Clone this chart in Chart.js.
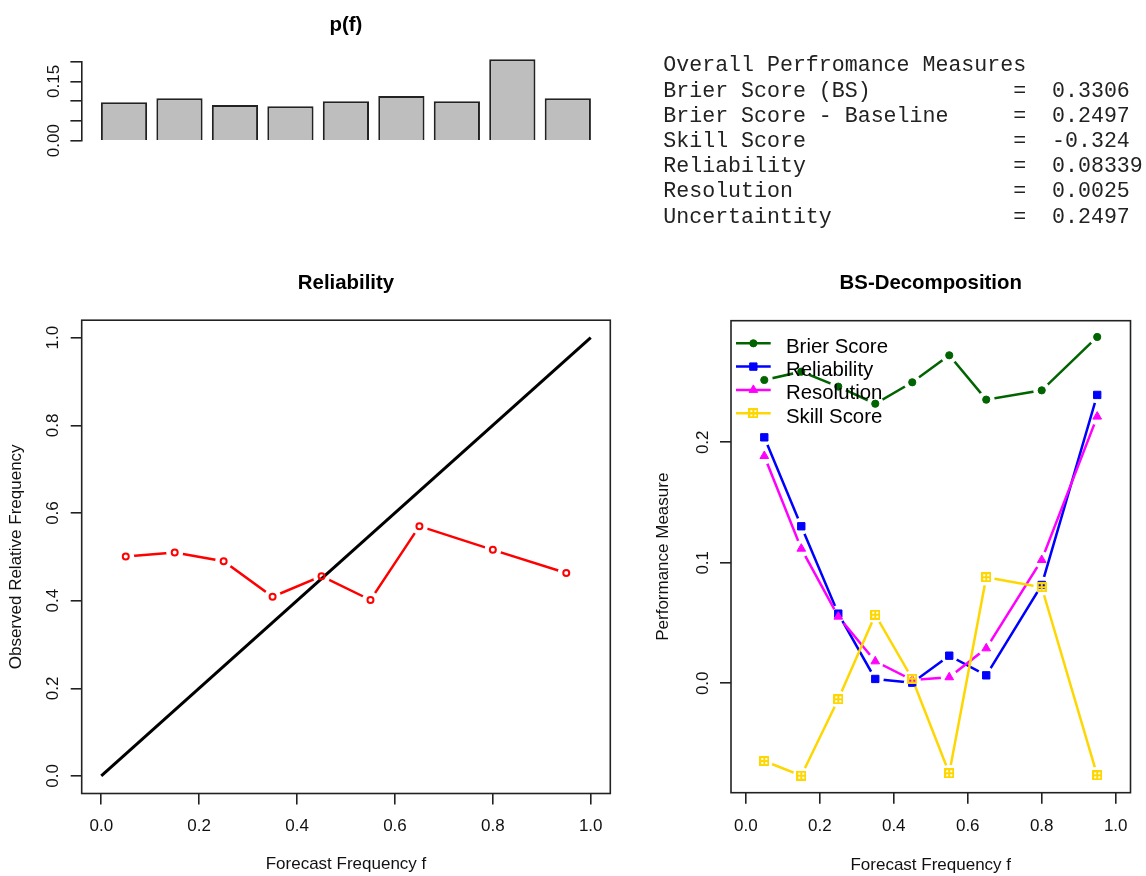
<!DOCTYPE html>
<html>
<head>
<meta charset="utf-8">
<title>Reliability diagnostics</title>
<script src="https://cdn.jsdelivr.net/npm/chart.js"></script>
<style>
  html, body { margin: 0; padding: 0; background: #fff; }
  #page { position: relative; width: 1146px; height: 876px; overflow: hidden; background: #fff; }
  #page canvas { position: absolute; left: 0; top: 0; }
  #measures {
    position: absolute; left: 663.3px; top: 53.4px; margin: 0;
    font-family: "Liberation Mono", "Courier New", monospace;
    font-size: 21.6px; line-height: 25.2px; white-space: pre; color: #222;
  }
</style>
</head>
<body>
<div id="page">
  <canvas id="pfChart" width="1146" height="876"></canvas>
  <canvas id="relChart" width="1146" height="876"></canvas>
  <canvas id="bsChart" width="1146" height="876"></canvas>
  <pre id="measures"></pre>
</div>
<script>
// Forecast probability bins (bin midpoints)
const bins = [0.05, 0.15, 0.25, 0.35, 0.45, 0.55, 0.65, 0.8, 0.95];
// Share of forecasts falling in each bin, p(f)
const binShare = [0.0972, 0.1073, 0.0904, 0.0871, 0.0997, 0.1132, 0.0997, 0.2061, 0.1073];
// Observed relative frequency of the event in each bin
const observedFreq = [0.501, 0.510, 0.490, 0.409, 0.456, 0.4015, 0.570, 0.516, 0.463];
// Per-bin decomposition of the Brier score
const brierScore  = [0.2517, 0.2586, 0.2462, 0.2320, 0.2498, 0.2722, 0.2354, 0.2431, 0.2874];
const reliability = [0.2041, 0.1303, 0.0578, 0.0036, 0.0005, 0.0229, 0.0066, 0.0816, 0.2393];
const resolution  = [0.1886, 0.1117, 0.0553, 0.0182, 0.0027, 0.0050, 0.0290, 0.1023, 0.2213];
const skillScore  = [-0.0645, -0.0767, -0.0133, 0.0569, 0.0038, -0.0747, 0.0880, 0.0797, -0.0764];
// Perfect-reliability diagonal end points
const diagonal = [0, 1];

const seriesNames = ['Brier Score', 'Reliability', 'Resolution', 'Skill Score'];

// Tick values and labels
const shareTicks = [0, 0.05, 0.10, 0.15, 0.20];
const shareTickLabels = ['0.00', '', '', '0.15', ''];
const freqTicks = [0, 0.2, 0.4, 0.6, 0.8, 1.0];
const measureTicks = [0, 0.1, 0.2];

// Summary table
const summaryTitle = 'Overall Perfromance Measures';
const measureNames = ['Brier Score (BS)', 'Brier Score - Baseline', 'Skill Score', 'Reliability', 'Resolution', 'Uncertaintity'];
const measureValues = ['0.3306', '0.2497', '-0.324', '0.08339', '0.0025', '0.2497'];

document.getElementById('measures').textContent =
  [summaryTitle].concat(measureNames.map((n, i) => n.padEnd(27) + '=  ' + measureValues[i])).join('\n');

Chart.defaults.font.family = '"Liberation Sans", Arial, Helvetica, sans-serif';
Chart.defaults.font.size = 17;
Chart.defaults.color = '#111';

const INK = '#222';
const titleFont = { size: 20.4, weight: 'bold' };

// Lines stop short of each marker, as with an R type="b" plot
const pointGaps = {
  id: 'pointGaps',
  beforeDatasetDraw(chart, args) {
    const ds = chart.data.datasets[args.index];
    if (!ds.gap) return;
    const ctx = chart.ctx;
    ctx.save();
    ctx.beginPath();
    ctx.rect(0, 0, chart.width, chart.height);
    args.meta.data.forEach(p => {
      ctx.moveTo(p.x + ds.gap, p.y);
      ctx.arc(p.x, p.y, ds.gap, 0, Math.PI * 2, true);
    });
    ctx.clip('evenodd');
  },
  afterDatasetDraw(chart, args) {
    const ds = chart.data.datasets[args.index];
    if (!ds.gap) return;
    const ctx = chart.ctx;
    ctx.restore();
    args.meta.data.forEach(p => p.draw(ctx, chart.chartArea));
  }
};

// Box around the plotting region
const frame = {
  id: 'frame',
  beforeDatasetsDraw(chart, args, opts) {
    const { left, top, right, bottom } = chart.chartArea;
    const ctx = chart.ctx;
    ctx.save();
    ctx.strokeStyle = opts.color || INK;
    ctx.lineWidth = opts.width || 1.6;
    ctx.strokeRect(left, top, right - left, bottom - top);
    ctx.restore();
  }
};

// Legend drawn inside the plotting region, line + marker + label
const insetLegend = {
  id: 'insetLegend',
  afterDatasetsDraw(chart, args, opts) {
    const ctx = chart.ctx;
    const a = chart.chartArea;
    ctx.save();
    ctx.font = opts.fontSize + 'px ' + Chart.defaults.font.family;
    ctx.textBaseline = 'alphabetic';
    ctx.textAlign = 'left';
    opts.order.forEach((dsIndex, row) => {
      const ds = chart.data.datasets[dsIndex];
      const y = a.top + opts.rowTop + row * opts.rowStep;
      ctx.strokeStyle = ds.borderColor;
      ctx.lineWidth = ds.borderWidth;
      ctx.beginPath();
      ctx.moveTo(a.left + opts.lineStart, y);
      ctx.lineTo(a.left + opts.lineEnd, y);
      ctx.stroke();
      ctx.fillStyle = ds.pointBackgroundColor;
      ctx.strokeStyle = ds.pointBorderColor;
      ctx.lineWidth = ds.pointBorderWidth;
      Chart.helpers.drawPoint(ctx, {
        pointStyle: ds.pointStyle, radius: ds.pointRadius, rotation: 0, borderWidth: ds.pointBorderWidth
      }, a.left + (opts.lineStart + opts.lineEnd) / 2, y);
      ctx.fillStyle = '#000';
      ctx.fillText(ds.label, a.left + opts.textStart, y + opts.baseline);
    });
    ctx.restore();
  }
};

function boxPlusMarker(color) {
  const c = document.createElement('canvas');
  c.width = 10; c.height = 10;
  const g = c.getContext('2d');
  g.strokeStyle = color;
  g.lineWidth = 2;
  g.strokeRect(1, 1, 8, 8);
  g.beginPath();
  g.moveTo(5, 1); g.lineTo(5, 9);
  g.moveTo(1, 5); g.lineTo(9, 5);
  g.stroke();
  return c;
}

function tickAxis(values, extra) {
  return Object.assign({
    type: 'linear',
    afterBuildTicks: s => { s.ticks = values.map(v => ({ value: v })); },
    border: { display: false },
    grid: { drawOnChartArea: false, drawTicks: true, tickLength: 11, color: INK, tickColor: INK, lineWidth: 1.6, tickWidth: 1.6 },
  }, extra);
}

// ---- p(f): share of forecasts per bin ----
new Chart(document.getElementById('pfChart'), {
  type: 'bar',
  data: {
    datasets: [{
      label: 'p(f)',
      data: binShare.map((v, i) => ({ x: i + 1, y: v })),
      backgroundColor: '#bebebe',
      borderColor: INK,
      borderWidth: 2,
      barPercentage: 1 / 1.2,
      categoryPercentage: 1,
      clip: false
    }]
  },
  options: {
    responsive: false, animation: false, events: [], devicePixelRatio: 1,
    layout: { padding: { left: 21.4, right: 535.7, top: 0, bottom: 735.3 } },
    plugins: {
      legend: { display: false }, tooltip: { enabled: false },
      title: { display: true, text: 'p(f)', fullSize: false, color: '#000', font: titleFont, padding: { top: 12.76, bottom: 24.46 } }
    },
    scales: {
      x: { type: 'linear', min: 0.232, max: 9.766, offset: false, display: false },
      y: tickAxis(shareTicks, {
        min: 0, max: 0.2,
        afterFit: s => { s.width = 60; },
        border: { display: true, color: INK, width: 1.6 },
        ticks: { autoSkip: false, minRotation: 90, maxRotation: 90, crossAlign: 'center', padding: 0, color: '#111',
                 callback: (v, i) => shareTickLabels[i] }
      })
    }
  }
});

// ---- Reliability diagram ----
new Chart(document.getElementById('relChart'), {
  type: 'line',
  data: {
    datasets: [{
      label: 'Observed',
      data: bins.map((b, i) => ({ x: b, y: observedFreq[i] })),
      borderColor: '#ff0000', borderWidth: 2.5,
      pointStyle: 'circle', pointRadius: 3, pointBorderWidth: 2,
      pointBackgroundColor: 'rgba(0,0,0,0)', pointBorderColor: '#ff0000',
      gap: 8.5, order: 0
    }, {
      label: 'Perfect reliability',
      data: diagonal.map(v => ({ x: v, y: v })),
      borderColor: '#000', borderWidth: 3, pointRadius: 0, order: 1
    }]
  },
  options: {
    responsive: false, animation: false, events: [], devicePixelRatio: 1,
    layout: { padding: { left: 0, right: 535.7, top: 0, bottom: 0 } },
    plugins: {
      legend: { display: false }, tooltip: { enabled: false },
      title: { display: true, text: 'Reliability', fullSize: false, color: '#000', font: titleFont, padding: { top: 271.06, bottom: 24.66 } }
    },
    scales: {
      x: tickAxis(freqTicks, {
        min: -0.04, max: 1.04,
        afterFit: s => { s.height = 82.5; },
        ticks: { autoSkip: false, maxRotation: 0, padding: 11.3, callback: v => v.toFixed(1) },
        title: { display: true, text: 'Forecast Frequency f', color: '#111', padding: { top: 0, bottom: 1.8 } }
      }),
      y: tickAxis(freqTicks, {
        min: -0.04, max: 1.04,
        afterFit: s => { s.width = 81.7; },
        ticks: { autoSkip: false, minRotation: 90, maxRotation: 90, crossAlign: 'center', padding: 5.6, callback: v => v.toFixed(1) },
        title: { display: true, text: 'Observed Relative Frequency', color: '#111', padding: { top: 6.5, bottom: 0 } }
      })
    }
  },
  plugins: [frame, pointGaps]
});

// ---- Brier score decomposition per bin ----
const seriesStyle = [
  { color: '#006400', pointStyle: 'circle', radius: 3.6, values: brierScore },
  { color: '#0000ff', pointStyle: 'rect', radius: 5.2, values: reliability },
  { color: '#ff00ff', pointStyle: 'triangle', radius: 5, values: resolution },
  { color: '#ffd700', pointStyle: boxPlusMarker('#ffd700'), radius: 5, values: skillScore }
];

new Chart(document.getElementById('bsChart'), {
  type: 'line',
  data: {
    datasets: seriesStyle.map((s, k) => ({
      label: seriesNames[k],
      data: bins.map((b, i) => ({ x: b, y: s.values[i] })),
      borderColor: s.color, borderWidth: 2.5,
      pointStyle: s.pointStyle, pointRadius: s.radius, pointBorderWidth: 1,
      pointBackgroundColor: s.color, pointBorderColor: s.color,
      gap: 8.5, order: seriesStyle.length - k
    }))
  },
  options: {
    responsive: false, animation: false, events: [], devicePixelRatio: 1,
    layout: { padding: { left: 631, right: 15.5, top: 0, bottom: 0 } },
    plugins: {
      legend: { display: false }, tooltip: { enabled: false },
      title: { display: true, text: 'BS-Decomposition', fullSize: false, color: '#000', font: titleFont, padding: { top: 271.06, bottom: 25.16 } },
      insetLegend: { order: [0, 1, 2, 3], fontSize: 20.4, lineStart: 5, lineEnd: 39.7, textStart: 55, rowTop: 22.6, rowStep: 23.3, baseline: 9.4 }
    },
    scales: {
      x: tickAxis(freqTicks, {
        min: -0.04, max: 1.04,
        afterFit: s => { s.height = 83.3; },
        ticks: { autoSkip: false, maxRotation: 0, padding: 12.1, callback: v => v.toFixed(1) },
        title: { display: true, text: 'Forecast Frequency f', color: '#111', padding: { top: 0, bottom: 0.8 } }
      }),
      y: tickAxis(measureTicks, {
        min: -0.0908, max: 0.3009,
        afterFit: s => { s.width = 100; },
        ticks: { autoSkip: false, minRotation: 90, maxRotation: 90, crossAlign: 'center', padding: 4.9, callback: v => v.toFixed(1) },
        title: { display: true, text: 'Performance Measure', color: '#111', padding: { top: 22.6, bottom: 0 } }
      })
    }
  },
  plugins: [frame, pointGaps, insetLegend]
});
</script>
</body>
</html>
